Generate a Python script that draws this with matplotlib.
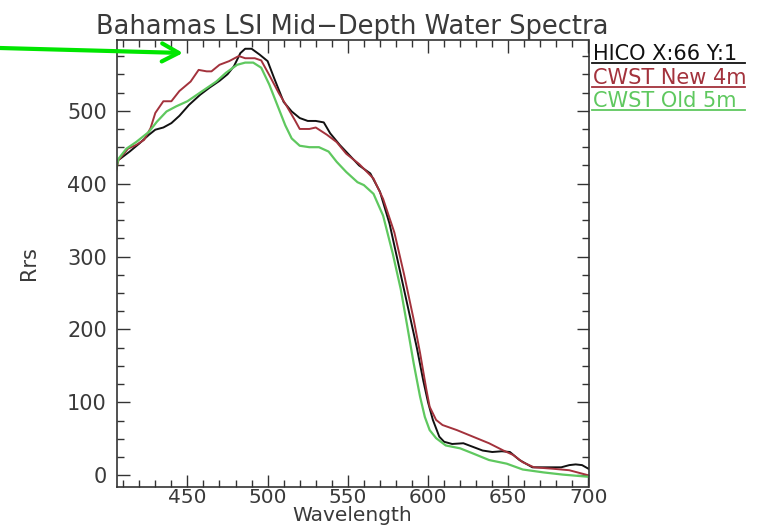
from matplotlib import pyplot as plt
from matplotlib.patches import Rectangle
from matplotlib.ticker import MultipleLocator

# HICO pixel spectrum (black)
wl_hico = [404, 408, 414, 420, 426, 430, 435, 440, 445, 451, 458, 464, 470, 475, 479, 483, 486, 490, 495, 500,
           504, 510, 515, 520, 525, 530, 535, 539, 545, 551, 557, 564, 570, 576, 582, 588, 593, 597, 600, 603,
           607, 610, 615, 622, 628, 634, 640, 646, 651, 657, 665, 674, 683, 688, 692, 696, 700]
hico = [429, 434, 444, 455, 467, 474, 477, 483, 493, 508, 522, 532, 541, 550, 561, 579, 585, 585, 577, 568,
        545, 512, 499, 490, 486, 486, 484, 469, 453, 439, 425, 414, 389, 345, 285, 225, 175, 130, 100, 76,
        53, 46, 43, 44, 39, 34, 32, 33, 32, 21, 11, 11, 11, 14, 15, 14, 9]

# CWST New 4m (red)
wl_new = [404, 407, 413, 418, 423, 427, 430, 435, 440, 445, 452, 457, 462, 465, 470, 476, 482, 486, 492, 496,
          501, 507, 512, 517, 520, 526, 530, 537, 543, 549, 557, 566, 572, 579, 585, 591, 595, 599, 601, 605,
          609, 618, 628, 638, 647, 653, 659, 666, 678, 688, 700]
cwst_new = [400, 432, 448, 453, 460, 476, 497, 513, 513, 527, 540, 556, 554, 554, 563, 568, 575, 572, 572, 569,
            549, 524, 506, 487, 475, 475, 477, 467, 457, 441, 427, 407, 379, 333, 276, 214, 168, 117, 94, 76,
            69, 62, 53, 44, 34, 28, 18, 11, 9, 7, 0]

# CWST Old 5m (green)
wl_old = [404, 407, 412, 418, 426, 431, 437, 443, 450, 456, 462, 468, 474, 481, 486, 491, 496, 501, 506, 511,
          515, 520, 526, 532, 538, 543, 549, 556, 560, 566, 572, 578, 583, 587, 591, 595, 598, 601, 605, 611,
          620, 628, 638, 649, 659, 672, 684, 700]
cwst_old = [405, 434, 448, 457, 471, 485, 499, 506, 513, 522, 531, 540, 552, 563, 566, 566, 559, 536, 508, 480,
            462, 452, 450, 450, 444, 430, 416, 402, 398, 386, 356, 304, 255, 205, 154, 108, 80, 62, 51, 41,
            37, 30, 21, 16, 8, 4, 1, -2]

labels = ["HICO X:66 Y:1", "CWST New 4m", "CWST Old 5m"]
colors = ["#111111", "#a3323c", "#5fc85f"]

W, H = 768, 529
fig = plt.figure(figsize=(W / 100, H / 100), dpi=100)
ax = fig.add_axes([116.5 / W, 1 - 487 / H, 472 / W, 447 / H])

ax.plot(wl_hico, hico, color=colors[0], lw=1.4)
ax.plot(wl_new, cwst_new, color=colors[1], lw=1.4)
ax.plot(wl_old, cwst_old, color=colors[2], lw=1.6)

ax.set_xlim(405.8, 700)
ax.set_ylim(-16, 597)
ax.xaxis.set_major_locator(MultipleLocator(50))
ax.xaxis.set_minor_locator(MultipleLocator(10))
ax.yaxis.set_major_locator(MultipleLocator(100))
ax.yaxis.set_minor_locator(MultipleLocator(25))
ax.tick_params(which="both", direction="in", top=True, right=True, colors="#333333",
               labelcolor="#3a3a3a", labelsize=15, width=1.0)
ax.tick_params(axis="x", labelsize=14.5, pad=1)
ax.tick_params(which="major", length=9)
ax.tick_params(which="minor", length=5)
ax.tick_params(axis="y", pad=7)
for s in ax.spines.values():
    s.set_color("#333333")
    s.set_linewidth(1.2)

ax.set_title("Bahamas LSI Mid\u2212Depth Water Spectra", fontsize=18.5, color="#3a3a3a", pad=4)
ax.set_xlabel("Wavelength", fontsize=14.5, color="#3a3a3a", labelpad=-1)
ax.set_ylabel("Rrs", fontsize=15, color="#3a3a3a", labelpad=20)

# legend text outside the right axis, underlined in the series colour
clip = Rectangle((590 / W, 0), (745 - 590) / W, 1, transform=fig.transFigure, visible=False)
fig.add_artist(clip)
ys = [54, 78, 101]
for lab, c, y in zip(labels, colors, ys):
    t = fig.text(593 / W, 1 - y / H, lab, color=c, fontsize=15, va="center", ha="left")
    t.set_clip_path(clip)
    fig.add_artist(plt.Line2D([592 / W, 745 / W], [1 - (y + 9) / H] * 2, color=c, lw=1.3,
                              transform=fig.transFigure))

# green arrow pointing into the plot
ax.annotate("", xy=(183 / W, 1 - 53 / H), xytext=(0, 1 - 48 / H), xycoords="figure fraction",
            textcoords="figure fraction",
            arrowprops=dict(arrowstyle="->,head_length=1.2,head_width=0.65", color="#00e600", lw=3,
                            shrinkA=0, shrinkB=0))

plt.savefig("out.png", dpi=100)
